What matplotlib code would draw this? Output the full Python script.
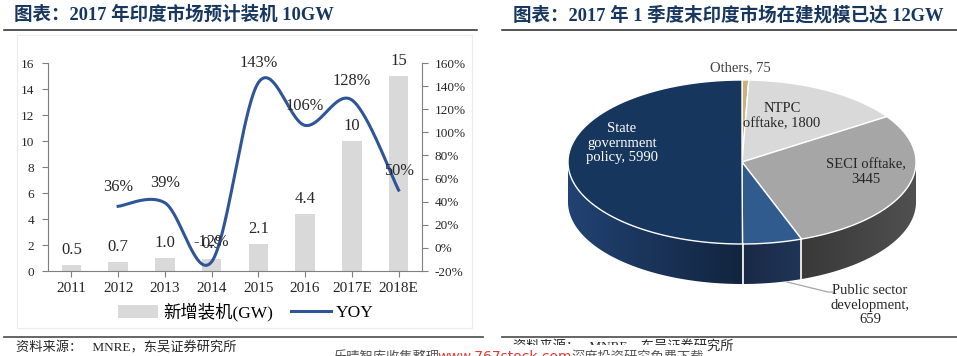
import numpy as np
import matplotlib
matplotlib.use('Agg')
import matplotlib.pyplot as plt
from matplotlib.patches import Polygon, Patch, Rectangle
from matplotlib.lines import Line2D
from matplotlib.colors import to_rgb

# left chart data
years = ['2011', '2012', '2013', '2014', '2015', '2016', '2017E', '2018E']
new_gw = [0.5, 0.7, 1.0, 0.9, 2.1, 4.4, 10, 15]
new_gw_labels = ['0.5', '0.7', '1.0', '0.9', '2.1', '4.4', '10', '15']
yoy = [np.nan, 36, 39, -12, 143, 106, 128, 50]

# right chart data (clockwise from 12 o'clock)
pie_values = [75, 1800, 3445, 659, 5990]
pie_labels = ['Others, {}', 'NTPC\nofftake, {}', 'SECI offtake,\n{}',
              'Public sector\ndevelopment,\n{}', 'State\ngovernment\npolicy, {}']
pie_top_colors = ['#c8b27d', '#d9d9d9', '#a6a6a6', '#2f5b8f', '#17365d']
pie_wall_colors = ['#8a7a50', '#8c8c8c', '#505050', '#2d4b7d', '#214272']
pie_text_colors = ['#404040', '#262626', '#262626', '#262626', 'white']

FONT = ['Liberation Serif', 'Noto Sans CJK SC', 'DejaVu Sans']
plt.rcParams['font.family'] = FONT
NAVY = '#17375e'
LINE = '#2f5597'
GREY = '#7f7f7f'


def smooth(xs, ys, n=40):
    # bezier smoothing like office "smoothed line"
    px, py = [], []
    m = len(xs)
    for i in range(m - 1):
        x0, y0 = xs[max(i - 1, 0)], ys[max(i - 1, 0)]
        x1, y1 = xs[i], ys[i]
        x2, y2 = xs[i + 1], ys[i + 1]
        x3, y3 = xs[min(i + 2, m - 1)], ys[min(i + 2, m - 1)]
        c1x, c1y = x1 + (x2 - x0) / 6, y1 + (y2 - y0) / 6
        c2x, c2y = x2 - (x3 - x1) / 6, y2 - (y3 - y1) / 6
        t = np.linspace(0, 1, n)
        a, b, c, d = (1 - t) ** 3, 3 * (1 - t) ** 2 * t, 3 * (1 - t) * t ** 2, t ** 3
        px.extend(a * x1 + b * c1x + c * c2x + d * x2)
        py.extend(a * y1 + b * c1y + c * c2y + d * y2)
    return np.array(px), np.array(py)


fig = plt.figure(figsize=(9.57, 3.56), dpi=100)

# background layer in pixel coordinates (titles, rules, pie)
bg = fig.add_axes([0, 0, 1, 1])
bg.set_xlim(0, 957)
bg.set_ylim(356, 0)
bg.axis('off')

bg.add_patch(Rectangle((17, 35), 455, 293, fill=False, edgecolor='#ececec', lw=0.8))
bg.text(14, 15, '图表：2017 年印度市场预计装机 10GW', fontsize=13.3, fontweight='bold',
        color=NAVY, va='center', ha='left')
bg.text(513, 15, '图表：2017 年 1 季度末印度市场在建规模已达 12GW', fontsize=13.3,
        fontweight='bold', color=NAVY, va='center', ha='left')
bg.plot([4, 477], [29.5, 29.5], color='#262626', lw=1.1)
bg.plot([502, 957], [29.5, 29.5], color='#262626', lw=1.1)
bg.plot([4, 483], [337, 337], color='#595959', lw=1.3)
bg.plot([502, 957], [337, 337], color='#595959', lw=1.3)
bg.text(16, 348, '资料来源：   MNRE，东吴证券研究所', fontsize=9.5, color='#262626', va='center')
bg.text(513, 347, '资料来源：   MNRE，东吴证券研究所', fontsize=9.5, color='#262626', va='center')
# watermark strip
bg.add_patch(Rectangle((330, 345), 375, 12, facecolor='white', edgecolor='none', zorder=5))
bg.text(333, 357, '乐晴智库收集整理', fontsize=9.5, color='#555555', va='center',
        family='Noto Sans CJK SC', zorder=6)
bg.text(437, 357, 'www.767stock.com', fontsize=10, color='#e03a3a', va='center',
        family='DejaVu Sans', zorder=6)
bg.text(572, 357, '深度投资研究免费下载', fontsize=9.5, color='#555555', va='center',
        family='Noto Sans CJK SC', zorder=6)

# ---- 3D pie ----
cx, cy, rx, ry, depth = 742, 162, 174, 82, 40
total = float(sum(pie_values))
cum = np.concatenate([[0], np.cumsum(pie_values)]) / total
starts = 90 - 360 * cum[:-1]
ends = 90 - 360 * cum[1:]


def rim(th):
    r = np.radians(th)
    return cx + rx * np.cos(r), cy - ry * np.sin(r)


# shading across the front wall: lighter at the sides, darker in front
gx = np.linspace(cx - rx, cx + rx, 400)
shade = 0.55 + 0.45 * np.abs(gx - cx) / rx
for i in range(len(pie_values)):
    th = np.linspace(ends[i], starts[i], 400)
    th = th[np.sin(np.radians(th)) < 0]
    if len(th) < 2:
        continue
    x, y = rim(th)
    pts = list(zip(x, y)) + list(zip(x[::-1], y[::-1] + depth))
    wall = Polygon(pts, closed=True, facecolor='none', edgecolor='none')
    bg.add_patch(wall)
    img = np.clip(np.array(to_rgb(pie_wall_colors[i]))[None, None, :] * shade[None, :, None], 0, 1)
    im = bg.imshow(img, extent=(cx - rx, cx + rx, cy + ry + depth + 2, cy - 2),
                   aspect='auto', interpolation='bilinear')
    im.set_clip_path(wall)

# white seams on the front wall
for a in ends[:-1]:
    if np.sin(np.radians(a)) < 0:
        x, y = rim(a)
        bg.plot([x, x], [y, y + depth], color='white', lw=1.2)

for i in range(len(pie_values)):
    th = np.linspace(starts[i], ends[i], 200)
    x, y = rim(th)
    pts = [(cx, cy)] + list(zip(x, y))
    bg.add_patch(Polygon(pts, closed=True, facecolor=pie_top_colors[i],
                         edgecolor='white', lw=1.0))

bg.set_xlim(0, 957)
bg.set_ylim(356, 0)

label_pos = [(740, 68), (782, 116), (866, 172), (870, 305), (622, 143)]
for i, (lx, ly) in enumerate(label_pos):
    bg.text(lx, ly, pie_labels[i].format(pie_values[i]), fontsize=10.5, ha='center',
            va='center', color=pie_text_colors[i], linespacing=1.15)
bg.plot([787, 828, 834], [282, 292, 292], color='#a6a6a6', lw=0.9)

# ---- bar + line chart ----
ax = fig.add_axes([48 / 957, 1 - 271 / 356, 374 / 957, 208 / 356])
ax.patch.set_alpha(0)
x = np.arange(len(years))
ax.bar(x, new_gw, width=0.42, color='#d9d9d9', zorder=1)
for xi, v, lab in zip(x, new_gw, new_gw_labels):
    ax.annotate(lab, (xi, v), xytext=(0, 5), textcoords='offset points',
                ha='center', va='bottom', fontsize=12, color='#262626')
ax.set_xlim(-0.5, len(years) - 0.5)
ax.set_ylim(0, 16)
ax.set_yticks(range(0, 17, 2))
ax.set_xticks(x)
ax.set_xticklabels(years, fontsize=11)
ax.tick_params(axis='y', labelsize=9.5, length=4, color=GREY, colors='#262626', pad=6)
ax.tick_params(axis='x', length=4, color=GREY, colors='#262626', pad=4)
for s in ['top', 'right']:
    ax.spines[s].set_visible(False)
for s in ['left', 'bottom']:
    ax.spines[s].set_color(GREY)

ax2 = ax.twinx()
ax2.set_ylim(-20, 160)
ax2.set_yticks(range(-20, 161, 20))
ax2.set_yticklabels(['{}%'.format(v) for v in range(-20, 161, 20)])
ax2.tick_params(axis='y', labelsize=9.5, length=4, color=GREY, colors='#262626', pad=5)
for s in ['top', 'left', 'bottom']:
    ax2.spines[s].set_visible(False)
ax2.spines['right'].set_color(GREY)

ok = ~np.isnan(yoy)
sx, sy = smooth(x[ok].astype(float), np.array(yoy)[ok])
ax2.plot(sx, sy, color=LINE, lw=2.2, zorder=3)
for xi, v in zip(x[ok], np.array(yoy)[ok]):
    ax2.annotate('{:.0f}%'.format(v), (xi, v), xytext=(0, 14), textcoords='offset points',
                 ha='center', va='center', fontsize=11.8, color='#262626')

handles = [Patch(facecolor='#d9d9d9', edgecolor='none'), Line2D([0], [0], color=LINE, lw=2.2)]
fig.legend(handles, ['新增装机(GW)', 'YOY'], loc='center', ncol=2,
           bbox_to_anchor=(246 / 957, 1 - 312 / 356), frameon=False, fontsize=12.5,
           handlelength=2.3, handleheight=0.8, columnspacing=1.0, handletextpad=0.3)

fig.savefig('out.png', dpi=100)
